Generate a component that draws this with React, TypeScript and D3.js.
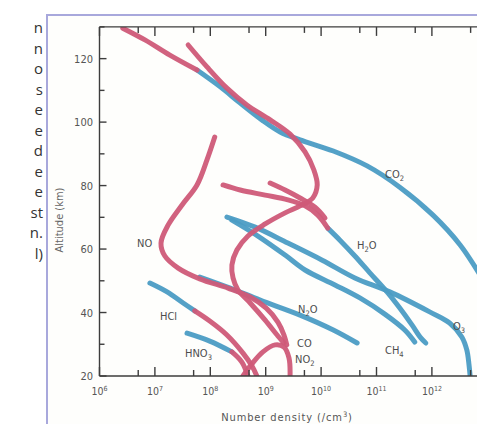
import React from "react";
import * as d3 from "d3";

// Each point: [log10 number density (/cm^3), altitude (km)]
const co2Upper = [[6.42, 129.6], [6.82, 125.9], [7.27, 121.1], [7.76, 116.4]];
const co2Lower = [[7.76, 116.4], [8.18, 111.1], [8.54, 106.0], [8.93, 100.7], [9.26, 96.9], [9.62, 94.4], [10.22, 90.9], [10.83, 86.2], [11.42, 79.5], [12.02, 70.7], [12.51, 61.3], [12.87, 51.8]];
const coProfile = [[7.6, 124.3], [7.94, 117.4], [8.3, 110.7], [8.66, 105.4], [9.08, 100.7], [9.44, 96.2], [9.71, 90.6], [9.87, 84.9], [9.93, 80.2], [9.85, 76.1], [9.62, 73.6], [9.35, 71.4], [8.99, 67.9], [8.68, 64.1], [8.48, 59.7], [8.39, 55.0], [8.41, 50.9], [8.5, 47.1], [8.72, 43.0], [8.99, 37.6], [9.22, 32.6], [9.33, 30.4]];
const noProfile = [[8.08, 95.3], [7.94, 88.1], [7.76, 80.2], [7.49, 73.9], [7.24, 67.6], [7.11, 61.9], [7.18, 57.8], [7.42, 54.0], [7.81, 50.6], [8.32, 47.7], [8.72, 44.9], [9.01, 41.4], [9.22, 37.0], [9.33, 32.9], [9.38, 29.8]];
const no2Profile = [[8.59, 20.0], [8.75, 23.8], [8.95, 27.6], [9.17, 29.8], [9.33, 29.1], [9.42, 25.7], [9.44, 20.0]];
const h2oUpper = [[8.23, 80.2], [8.54, 78.6], [8.99, 77.0], [9.4, 75.5], [9.71, 73.6], [9.94, 70.7], [10.12, 66.6]];
const h2oUpperBranch = [[9.08, 80.8], [9.35, 78.6], [9.62, 76.1], [9.89, 73.2], [10.07, 69.8]];
const h2oLower = [[10.12, 66.6], [10.34, 62.8], [10.61, 57.8], [10.88, 52.5], [11.19, 46.5], [11.42, 41.4], [11.64, 36.1], [11.8, 32.0], [11.89, 30.4]];
const o3Profile = [[8.3, 70.1], [8.81, 66.9], [9.4, 61.9], [10.02, 56.5], [10.61, 50.9], [11.24, 46.5], [11.96, 40.2], [12.32, 36.7], [12.54, 32.3], [12.63, 28.2], [12.67, 23.5], [12.69, 20.0]];
const ch4Profile = [[8.39, 69.1], [8.86, 64.1], [9.35, 58.1], [9.71, 53.4], [10.25, 48.7], [10.7, 44.6], [11.15, 39.5], [11.51, 34.5], [11.69, 30.7]];
const n2oProfile = [[7.81, 51.2], [8.36, 47.7], [8.9, 43.9], [9.62, 39.2], [10.22, 34.5], [10.65, 30.4]];
const hclUpper = [[6.91, 49.3], [7.22, 46.5], [7.51, 43.0], [7.72, 40.5]];
const hclLower = [[7.72, 40.5], [7.99, 37.3], [8.3, 32.9], [8.59, 27.2], [8.75, 23.2], [8.84, 20.0]];
const hno3Upper = [[7.58, 33.5], [7.99, 31.0], [8.39, 27.6]];
const hno3Lower = [[8.39, 27.6], [8.57, 24.4], [8.68, 20.0]];

const altitudeTicks = [20, 40, 60, 80, 100, 120];
const altitudeMinorTicks = [30, 50, 70, 90, 110, 130];
const densityExponents = [6, 7, 8, 9, 10, 11, 12];

const speciesLabels = [
  { base: "CO", sub: "2", tail: "", x: 385, y: 178 },
  { base: "H", sub: "2", tail: "O", x: 357, y: 249 },
  { base: "NO", sub: "", tail: "", x: 137, y: 247 },
  { base: "N", sub: "2", tail: "O", x: 298, y: 313 },
  { base: "O", sub: "3", tail: "", x: 453, y: 330 },
  { base: "HCl", sub: "", tail: "", x: 160, y: 320 },
  { base: "CO", sub: "", tail: "", x: 297, y: 347 },
  { base: "CH", sub: "4", tail: "", x: 385, y: 354 },
  { base: "HNO", sub: "3", tail: "", x: 185, y: 357 },
  { base: "NO", sub: "2", tail: "", x: 295, y: 363 },
];

const paragraphFragments = ["n", "n", "o", "s", "e", "e", "d", "e", "e", "st", "n.", "l)"];

const RED = "#cf5a78";
const BLUE = "#4b9cc4";

export default function App() {
  const x = d3.scaleLog().domain([1e6, 1e13]).range([99.5, 487.3]);
  const y = d3.scaleLinear().domain([20, 130]).range([376, 26.9]);
  const line = d3
    .line<number[]>()
    .x((d) => x(Math.pow(10, d[0])))
    .y((d) => y(d[1]))
    .curve(d3.curveCatmullRom.alpha(0.5));

  const segments: [number[][], string][] = [
    [co2Lower, BLUE],
    [o3Profile, BLUE],
    [ch4Profile, BLUE],
    [h2oLower, BLUE],
    [n2oProfile, BLUE],
    [hclUpper, BLUE],
    [hno3Upper, BLUE],
    [co2Upper, RED],
    [h2oUpper, RED],
    [h2oUpperBranch, RED],
    [noProfile, RED],
    [coProfile, RED],
    [no2Profile, RED],
    [hclLower, RED],
    [hno3Lower, RED],
  ];

  const minorX: number[] = densityExponents.map((e) => 5 * Math.pow(10, e));
  const majorX: number[] = densityExponents.map((e) => Math.pow(10, e));
  const [x0] = x.range();
  const yBottom = y(20);
  const yTop = y(130);
  const font = "'DejaVu Sans Condensed', 'DejaVu Sans', sans-serif";

  return (
    <svg
      width={477}
      height={424}
      style={{ position: "absolute", left: 0, top: 0, background: "#fff" }}
    >
      {paragraphFragments.map((t, i) => (
        <text
          key={i}
          x={43}
          y={33 + i * 20.5}
          textAnchor="end"
          fontFamily="'Open Sans', sans-serif"
          fontSize={15}
          fill="#333"
        >
          {t}
        </text>
      ))}
      <rect x={47} y={15} width={460} height={430} fill="#fefefc" stroke="#a8a8dc" strokeWidth={2} />
      <clipPath id="plot">
        <rect x={x0} y={yTop} width={477 - x0} height={yBottom - yTop} />
      </clipPath>
      <g clipPath="url(#plot)" fill="none" strokeLinecap="round" strokeLinejoin="round">
        {segments.map(([pts, c], i) => (
          <path key={i} d={line(pts) || ""} stroke={c} strokeWidth={5} strokeOpacity={0.95} />
        ))}
      </g>
      <g stroke="#3d3d3d" strokeWidth={1.4}>
        <line x1={x0} x2={477} y1={yBottom} y2={yBottom} />
        <line x1={x0} x2={477} y1={yTop} y2={yTop} />
        <line x1={x0} x2={x0} y1={yTop} y2={yBottom} />
        {majorX.map((v, i) => (
          <g key={"mx" + i}>
            <line x1={x(v)} x2={x(v)} y1={yBottom} y2={yBottom - 9} />
            <line x1={x(v)} x2={x(v)} y1={yTop} y2={yTop + 9} />
          </g>
        ))}
        {minorX.map((v, i) => (
          <g key={"nx" + i}>
            <line x1={x(v)} x2={x(v)} y1={yBottom} y2={yBottom - 6} />
            <line x1={x(v)} x2={x(v)} y1={yTop} y2={yTop + 6} />
          </g>
        ))}
        {altitudeTicks.map((a) => (
          <line key={"ya" + a} x1={x0} x2={x0 + 7} y1={y(a)} y2={y(a)} />
        ))}
        {altitudeMinorTicks.map((a) => (
          <line key={"yb" + a} x1={x0} x2={x0 + 5} y1={y(a)} y2={y(a)} />
        ))}
      </g>
      <g fontFamily={font} fill="#555">
        {altitudeTicks.map((a) => (
          <text key={"yl" + a} x={93} y={y(a) + 4} textAnchor="end" fontSize={11}>
            {a}
          </text>
        ))}
        {majorX.map((v, i) => (
          <text key={"xl" + i} x={x(v)} y={395} textAnchor="middle" fontSize={10.5}>
            10
            <tspan fontSize={7} dy={-4.5}>
              {densityExponents[i]}
            </tspan>
          </text>
        ))}
        <text
          transform={`translate(63, 220) rotate(-90)`}
          textAnchor="middle"
          fontSize={11}
          fill="#666"
        >
          Altitude (km)
        </text>
        <text x={287} y={421} textAnchor="middle" fontSize={11} letterSpacing={0.9} fill="#555">
          Number density (/cm
          <tspan fontSize={7.5} dy={-4}>3</tspan>
          <tspan dy={4}>)</tspan>
        </text>
        {speciesLabels.map((l, i) => (
          <text key={"sl" + i} x={l.x} y={l.y} fontSize={11} fill="#4d4d4d">
            {l.base}
            {l.sub ? (
              <tspan fontSize={7.5} dy={2.5}>
                {l.sub}
              </tspan>
            ) : null}
            {l.tail ? <tspan dy={-2.5}>{l.tail}</tspan> : null}
          </text>
        ))}
      </g>
    </svg>
  );
}
